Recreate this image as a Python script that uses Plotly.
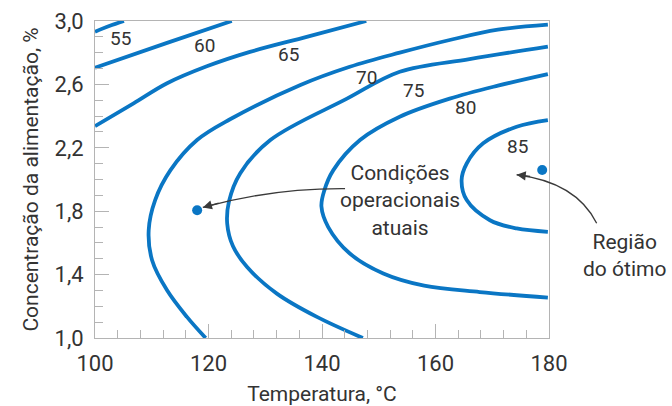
import plotly.graph_objects as go

# ---- data ----
x_range = [100, 180]
y_range = [1.0, 3.0]
x_ticks = [100, 120, 140, 160, 180]
x_tick_labels = ["100", "120", "140", "160", "180"]
y_ticks = [1.0, 1.4, 1.8, 2.2, 2.6, 3.0]
y_tick_labels = ["1,0", "1,4", "1,8", "2,2", "2,6", "3,0"]

c55_t = [100, 102.5, 105.1]
c55_c = [2.932, 2.968, 3.0]

c60_t = [100, 112.7, 124.1]
c60_c = [2.705, 2.862, 3.0]

c65_t = [100, 106.8, 112.7, 119.7, 127.3, 137.3, 147.8]
c65_c = [2.337, 2.48, 2.607, 2.714, 2.805, 2.90, 3.0]

c70_t = [119.5, 116.2, 112.7, 110.06, 109.46, 110.6, 113.3, 117.98, 123.8,
         136.2, 144.9, 153.7, 162.5, 171.0, 179.8]
c70_c = [1.0, 1.133, 1.301, 1.491, 1.68, 1.87, 2.059, 2.249, 2.38,
         2.596, 2.711, 2.80, 2.88, 2.945, 2.977]

c75_t = [147.2, 139.1, 132.05, 126.8, 124.3, 123.3, 123.6, 125.6, 130.9, 144.4,
         153.7, 166.0, 179.8]
c75_c = [1.0, 1.133, 1.28, 1.448, 1.58, 1.72, 1.86, 2.04, 2.249, 2.51,
         2.68, 2.76, 2.838]

c80_t = [179.8, 167.8, 158.0, 150.8, 144.9, 141.1, 139.9, 140.4, 142.0, 146.7,
         153.7, 162.5, 171.0, 179.8]
c80_c = [1.255, 1.29, 1.33, 1.407, 1.533, 1.70, 1.83, 1.93, 2.059, 2.249,
         2.396, 2.51, 2.592, 2.665]

c85_t = [179.8, 174.3, 169.6, 165.5, 164.6, 165.5, 168.4, 174.3, 179.8]
c85_c = [1.67, 1.691, 1.743, 1.87, 1.996, 2.101, 2.228, 2.333, 2.375]

contour_levels = ["55", "60", "65", "70", "75", "80", "85"]
label_t = [104.5, 119.3, 134.1, 147.9, 156.2, 165.2, 174.5]
label_c = [2.89, 2.848, 2.79, 2.644, 2.564, 2.455, 2.21]

point_t = [118.0, 178.8]
point_c = [1.806, 2.06]

BLUE = "#0a76c4"
TXT = "#333333"
GRID = "#b4b4b4"
FONT = "Roboto"

fig = go.Figure()
for t, c in [(c55_t, c55_c), (c60_t, c60_c), (c65_t, c65_c), (c70_t, c70_c),
             (c75_t, c75_c), (c80_t, c80_c), (c85_t, c85_c)]:
    fig.add_trace(go.Scatter(x=t, y=c, mode="lines",
                             line=dict(color=BLUE, width=3.8, shape="spline", smoothing=1.0),
                             hoverinfo="skip", showlegend=False, cliponaxis=True))

fig.add_trace(go.Scatter(x=point_t, y=point_c, mode="markers",
                         marker=dict(color=BLUE, size=10), showlegend=False,
                         hoverinfo="skip", cliponaxis=False))

for lab, t, c in zip(contour_levels, label_t, label_c):
    fig.add_annotation(x=t, y=c, text=lab, showarrow=False,
                       font=dict(family=FONT, size=19, color=TXT))


def px(t):
    return (t - x_range[0]) / (x_range[1] - x_range[0])


def py(c):
    return (c - y_range[0]) / (y_range[1] - y_range[0])


fig.add_annotation(x=px(153.7), y=py(1.87), xref="paper", yref="paper",
                   xanchor="center", yanchor="middle",
                   text="Condições<br>operacionais<br>atuais",
                   showarrow=False, font=dict(family=FONT, size=21, color=TXT))
fig.add_annotation(x=px(193.3), y=py(1.522), xref="paper", yref="paper",
                   xanchor="center", yanchor="middle",
                   text="Região<br>do ótimo",
                   showarrow=False, font=dict(family=FONT, size=21, color=TXT))

arrows = [
    # start, control, end (data units)
    ((144.06, 1.942), (131.2, 1.945), (119.0, 1.824)),
    ((188.4, 1.724), (184.8, 1.983), (174.3, 2.030)),
]
for (s, k, e) in arrows:
    path = "M {:.5f},{:.5f} Q {:.5f},{:.5f} {:.5f},{:.5f}".format(
        px(s[0]), py(s[1]), px(k[0]), py(k[1]), px(e[0]), py(e[1]))
    fig.add_shape(type="path", path=path, xref="paper", yref="paper",
                  line=dict(color="#3a3a3a", width=1.3))
    tail = (e[0] + 0.25 * (k[0] - e[0]), e[1] + 0.25 * (k[1] - e[1]))
    fig.add_annotation(x=e[0], y=e[1], ax=tail[0], ay=tail[1], axref="x", ayref="y",
                       xref="x", yref="y", text="", showarrow=True,
                       arrowhead=2, arrowsize=1.4, arrowwidth=1.3, arrowcolor="#3a3a3a",
                       standoff=0)

fig.update_layout(
    width=672, height=406,
    margin=dict(l=95, r=123, t=21, b=68, autoexpand=False),
    paper_bgcolor="white", plot_bgcolor="white",
    separators=", ",
    font=dict(family=FONT, color=TXT),
    showlegend=False,
    hovermode=False,
)
fig.update_xaxes(
    range=x_range, tickvals=x_ticks, ticktext=x_tick_labels,
    showgrid=False, zeroline=False,
    showline=True, linecolor=GRID, linewidth=1, mirror=True,
    ticks="inside", ticklen=14, tickcolor=GRID, tickwidth=1,
    minor=dict(dtick=4, tick0=100, ticks="inside", ticklen=8, tickcolor=GRID, tickwidth=1, showgrid=False),
    tickfont=dict(family=FONT, size=22, color=TXT),
    ticklabelstandoff=6,
    title=dict(text="Temperatura, °C", font=dict(family=FONT, size=21, color=TXT), standoff=10),
    automargin=False,
)
fig.update_yaxes(
    range=y_range, tickvals=y_ticks, ticktext=y_tick_labels,
    showgrid=False, zeroline=False,
    showline=True, linecolor=GRID, linewidth=1, mirror=True,
    ticks="inside", ticklen=14, tickcolor=GRID, tickwidth=1,
    minor=dict(dtick=0.1, tick0=1.0, ticks="inside", ticklen=8, tickcolor=GRID, tickwidth=1, showgrid=False),
    tickfont=dict(family=FONT, size=22, color=TXT),
    ticklabelstandoff=6,
    title=dict(text="Concentração da alimentação, %", font=dict(family=FONT, size=21, color=TXT), standoff=10),
    automargin=False,
)

fig.write_html("out.html", config={"displayModeBar": False, "staticPlot": True},
               post_script="document.body.style.margin='0';document.body.style.overflow='hidden';")
